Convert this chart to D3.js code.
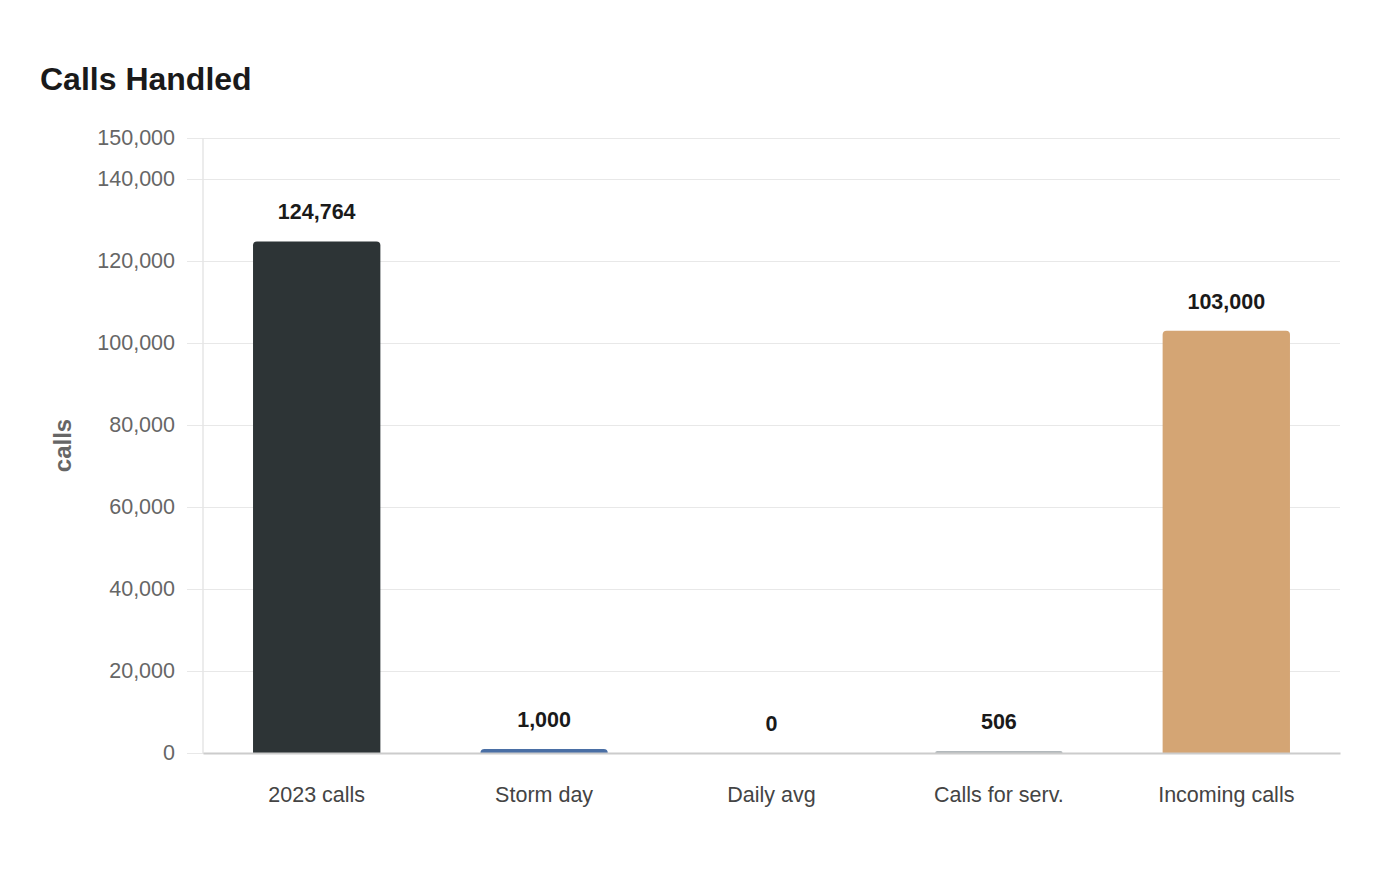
<!DOCTYPE html>
<html>
<head>
<meta charset="utf-8">
<script src="https://cdn.jsdelivr.net/npm/d3@7"></script>
<style>
  body { margin: 0; background: #fff; font-family: "Liberation Sans", Arial, sans-serif; }
</style>
</head>
<body>
<svg id="chart" width="1400" height="880"></svg>
<script>
// data
var categories = ["2023 calls", "Storm day", "Daily avg", "Calls for serv.", "Incoming calls"];
var values = [124764, 1000, 0, 506, 103000];
var barColors = ["#2d3436", "#4a6fa5", "#8a9bb0", "#b2b8bb", "#d4a574"];
var yTicks = [0, 20000, 40000, 60000, 80000, 100000, 120000, 140000, 150000];

var margin = {top: 138, right: 60, bottom: 127, left: 203},
    width = 1400 - margin.left - margin.right,
    height = 880 - margin.top - margin.bottom;

var svg = d3.select("#chart");

svg.append("text")
    .attr("x", 40).attr("y", 90)
    .attr("font-size", 32).attr("font-weight", "bold")
    .attr("fill", "#1a1a1a")
    .text("Calls Handled");

var g = svg.append("g").attr("transform", "translate(" + margin.left + "," + margin.top + ")");

var x = d3.scaleBand().domain(categories).range([0, width]).paddingInner(0.44).paddingOuter(0.22);
var y = d3.scaleLinear().domain([0, 150000]).range([height, 0]);

// gridlines + y axis labels
var yAxis = d3.axisLeft(y).tickValues(yTicks).tickFormat(d3.format(",")).tickSize(-width - 16).tickPadding(12);
var yg = g.append("g").attr("transform", "translate(-16,0)").call(yAxis);
yg.select(".domain").remove();
yg.selectAll(".tick line").attr("stroke", "#e8e8e8").attr("x1", 0);
yg.selectAll(".tick text").attr("font-size", 21.5).attr("fill", "#666").attr("font-family", "Liberation Sans, Arial, sans-serif");

// vertical axis line
g.append("line").attr("x1", 0).attr("x2", 0).attr("y1", 0).attr("y2", height)
    .attr("stroke", "#e6e6e6").attr("stroke-width", 1.5);

// y title
svg.append("text")
    .attr("transform", "translate(71," + (margin.top + height / 2) + ") rotate(-90)")
    .attr("text-anchor", "middle")
    .attr("font-size", 24).attr("font-weight", "bold").attr("fill", "#666")
    .text("calls");

// bars with rounded top corners
function barPath(d, i) {
    var x0 = x(categories[i]), w = x.bandwidth(), y0 = y(d), h = height - y0;
    var r = Math.min(4, h);
    return "M" + x0 + "," + height +
        "V" + (y0 + r) +
        "Q" + x0 + "," + y0 + " " + (x0 + r) + "," + y0 +
        "H" + (x0 + w - r) +
        "Q" + (x0 + w) + "," + y0 + " " + (x0 + w) + "," + (y0 + r) +
        "V" + height + "Z";
}

g.selectAll(".bar")
    .data(values)
    .enter().append("path")
    .attr("class", "bar")
    .attr("d", barPath)
    .attr("fill", function(d, i) { return barColors[i]; });

// x axis
var xg = g.append("g").attr("transform", "translate(0," + height + ")")
    .call(d3.axisBottom(x).tickSize(0).tickPadding(34));
xg.select(".domain").attr("stroke", "#cccccc").attr("stroke-width", 2);
xg.selectAll(".tick text").attr("font-size", 21.5).attr("fill", "#444").attr("font-family", "Liberation Sans, Arial, sans-serif");

// value labels
g.selectAll(".val")
    .data(values)
    .enter().append("text")
    .attr("class", "val")
    .attr("x", function(d, i) { return x(categories[i]) + x.bandwidth() / 2; })
    .attr("y", function(d) { return y(d) - 22; })
    .attr("text-anchor", "middle")
    .attr("font-size", 21.5).attr("font-weight", "bold").attr("fill", "#1a1a1a")
    .text(function(d) { return d3.format(",")(d); });
</script>
</body>
</html>
